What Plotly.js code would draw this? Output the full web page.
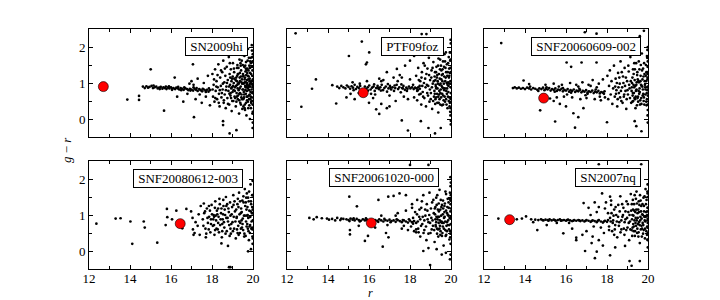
<!DOCTYPE html>
<html><head><meta charset="utf-8">
<script src="https://cdn.plot.ly/plotly-3.0.1.min.js"></script>
<style>body{margin:0;background:#fff}#c{width:720px;height:300px}</style>
</head><body><div id="c"></div>
<script>
const names = ['SN2009hi','PTF09foz','SNF20060609-002','SNF20080612-003','SNF20061020-000','SN2007nq'];
const hostX = [12.70, 15.72, 14.91, 16.45, 16.11, 13.25];
const hostY = [0.90, 0.73, 0.58, 0.76, 0.78, 0.87];
const xTicks = [12, 14, 16, 18, 20];
const yTicks = [0, 1, 2];

const stars1 = [[15.01,1.38],[13.87,0.54],[14.44,0.64],[14.44,0.53],[15.66,0.23],[16.18,1.15],[17.07,1.52],[17.12,0.05],[18.54,-0.06],[18.54,-0.17],[18.86,-0.40],[19.19,-0.31],
[14.63,0.90],[14.72,0.86],[14.80,0.91],[14.88,0.87],[14.95,0.89],[15.05,0.92],[15.12,0.86],[15.20,0.88],[15.28,0.90],[15.35,0.85],[15.42,0.87],[15.50,0.89],[15.58,0.84],[15.63,0.88],[15.70,0.86],[15.78,0.83],[15.85,0.87],[15.92,0.85],[16.00,0.88],[16.06,0.84],[16.12,0.86],[16.20,0.83],[16.26,0.87],[16.33,0.85],[16.40,0.82],[16.47,0.86],[16.55,0.84],[16.62,0.81],[16.70,0.85],[16.78,0.83],[16.85,0.80],[16.92,0.84],[17.00,0.82],[17.08,0.79],[17.15,0.84],[17.22,0.81],[17.30,0.78],[17.38,0.83],[17.45,0.80],[17.52,0.77],[17.60,0.82],[17.68,0.79],[17.75,0.81],[17.83,0.76],[17.90,0.80],
[16.30,0.62],[16.60,0.48],[16.90,0.98],[17.00,1.05],[17.20,0.55],[17.30,1.12],[17.50,0.45],[17.60,1.00],[17.70,0.62],[17.80,1.20],[17.90,0.38],[17.40,0.68],[16.80,0.70],[17.10,0.95],
[18.02,1.25],[18.05,0.62],[18.08,0.95],[18.12,0.48],[18.15,1.38],[18.18,0.78],[18.22,1.05],[18.25,0.55],[18.28,0.88],[18.31,1.52],[18.34,0.70],[18.37,0.35],[18.40,1.15],[18.43,0.92],[18.46,0.60],
[18.50,1.30],[18.52,0.82],[18.55,1.62],[18.57,0.45],[18.60,1.02],[18.62,0.68],[18.65,1.20],[18.67,0.30],[18.70,0.90],[18.72,1.45],[18.75,0.58],[18.77,1.08],[18.80,0.78],[18.82,1.72],[18.84,0.40],[18.86,1.25],[18.88,0.95],[18.90,0.65],[18.92,1.38],[18.94,0.85],[18.96,0.22],[18.98,1.12],
[19.00,0.75],[19.02,1.55],[19.04,0.50],[19.06,1.00],[19.08,1.30],[19.10,0.62],[19.12,0.88],[19.14,1.82],[19.16,0.35],[19.18,1.15],[19.20,0.72],[19.22,1.42],[19.24,0.95],[19.26,0.55],[19.28,1.25],[19.30,0.80],[19.32,0.15],[19.34,1.65],[19.36,1.05],[19.38,0.45],[19.40,0.90],[19.42,1.35],[19.44,0.68],[19.46,1.10],[19.48,0.28],[19.50,1.50],
[19.52,0.82],[19.54,1.20],[19.55,0.58],[19.57,1.00],[19.58,1.75],[19.60,0.40],[19.62,0.92],[19.63,1.32],[19.65,0.70],[19.66,1.58],[19.68,0.10],[19.70,1.08],[19.71,0.52],[19.73,1.40],[19.74,0.85],[19.76,1.95],[19.77,0.30],[19.79,1.18],[19.80,0.65],[19.82,1.48],[19.83,0.95],[19.85,0.00],[19.86,1.28],[19.88,0.75],[19.89,1.70],[19.91,0.45],[19.92,1.05],[19.94,2.05],[19.95,0.60],[19.97,1.35],[19.98,0.88],[19.99,-0.10],
[18.03,0.82],[18.10,1.10],[18.16,0.58],[18.21,0.90],[18.27,1.22],[18.33,0.45],[18.38,0.80],[18.44,1.35],[18.48,0.72],[18.53,0.98],[18.58,0.52],[18.63,1.40],[18.68,0.80],[18.73,1.00],[18.78,0.42],[18.83,0.90],[18.87,1.55],[18.91,0.72],[18.95,1.05],[18.99,0.50],[19.03,0.92],[19.07,1.40],[19.11,0.78],[19.15,1.08],[19.19,0.48],[19.23,1.20],[19.27,0.65],[19.31,1.00],[19.35,0.85],[19.39,1.55],[19.43,0.60],[19.47,0.98],[19.51,1.25],[19.55,0.75],[19.59,1.10],[19.61,0.25],[19.64,0.88],[19.67,1.22],[19.69,0.62],[19.72,1.00],[19.75,0.48],[19.78,1.35],[19.81,0.80],[19.84,1.12],[19.87,0.55],[19.90,1.55],[19.93,0.82],[19.96,1.20],[19.98,0.40],[19.99,1.80],[19.97,0.95],[19.93,1.45],[19.88,1.00],[19.84,0.68],[19.79,0.92],[19.74,1.62],[19.70,0.78],[19.66,1.02],[19.62,1.48],[19.57,0.68],[19.53,0.35],[19.49,0.82],[19.45,1.62],[19.41,1.18],[19.37,0.72],[19.33,0.52],[19.29,1.42],[19.25,0.85],[19.21,1.05],[19.17,0.92],[19.13,0.58],[19.09,1.12],[19.05,0.80],[19.01,1.18],[18.97,0.88],[18.93,0.58],[18.89,1.15],[18.85,0.70],
[19.99,0.20],[19.98,1.60],[19.96,0.72],[19.95,1.90],[19.99,1.10],[19.98,-0.25],[19.97,0.50]];
const stars1b = [[19.21,0.62],[19.24,1.50],[19.27,0.98],[19.33,0.70],[19.36,1.28],[19.41,0.40],[19.44,1.02],[19.47,1.78],[19.52,0.55],[19.54,0.98],[19.57,1.45],[19.59,0.30],[19.61,1.15],[19.63,0.80],[19.66,0.45],[19.68,1.35],[19.71,0.95],[19.73,0.62],[19.75,1.20],[19.78,0.88],[19.80,1.70],[19.82,0.38],[19.85,1.42],[19.87,0.90],[19.89,0.62],[19.91,1.25],[19.93,0.50],[19.95,1.05],[19.96,1.72],[19.98,0.75],[19.99,1.45],[19.97,0.15],[19.94,1.58],[19.92,0.98],[19.90,0.30],[19.86,1.60],[19.83,1.05],[19.81,0.55],[19.77,1.10],[19.72,1.28],[19.69,0.90],[19.65,1.40],[19.60,1.02],[19.56,0.60],[19.50,1.18],[19.46,0.55],[19.40,1.48],[19.35,1.15],[19.30,0.98],[19.26,1.25],
[15.15,0.93],[15.45,0.83],[15.75,0.90],[16.05,0.81],[16.35,0.89],[16.65,0.88],[16.95,0.79],[17.25,0.86],[17.55,0.84],[17.85,0.85],[15.90,0.91],[16.50,0.80],[17.10,0.88],[17.70,0.75]];

const stars2 = [[12.42,2.38],[15.65,2.15],[16.01,1.85],[15.90,1.57],[15.85,1.52],[15.02,1.75],[13.41,1.10],[13.22,0.84],[12.70,0.34],[14.40,0.43],[14.21,0.94],[16.35,0.27],[16.50,0.14],[16.87,0.30],[17.60,-0.04],[17.90,-0.32],[18.53,-0.06],[18.90,-0.25],[19.22,-0.40],[19.50,-0.25],[16.87,1.30],[17.36,1.39],[17.76,1.48],[18.57,2.36],[18.80,2.36],[14.90,0.60],[15.10,0.70],[15.30,0.55],[16.00,0.45],[16.20,0.58],[16.60,0.42],[17.00,0.35],[17.30,0.50],[17.20,1.15],[16.60,1.05],[17.50,1.22],[18.00,1.62],[18.20,1.75],[18.40,1.85],[18.60,1.95],
[14.45,0.90],[14.55,0.86],[14.65,0.92],[14.75,0.88],[14.85,0.85],[14.92,0.93],[15.00,0.89],[15.08,0.84],[15.15,0.91],[15.22,0.87],[15.30,0.95],[15.36,0.83],[15.43,0.89],[15.50,0.86],[15.57,0.92],[15.63,0.80],[15.80,0.90],[15.87,0.84],[15.94,0.88],[16.01,0.93],[16.08,0.82],[16.15,0.87],[16.22,0.90],[16.28,0.78],[16.35,0.86],[16.42,0.92],[16.48,0.83],[16.55,0.88],[16.62,0.95],[16.68,0.80],[16.75,0.86],[16.82,0.90],[16.88,0.76],[16.95,0.85],[17.02,0.92],[17.08,0.82],[17.15,0.88],[17.22,0.78],[17.28,0.86],[17.35,0.95],[17.42,0.83],[17.48,0.88],[17.55,0.74],[17.62,0.86],[17.68,0.92],[17.75,0.81],[17.82,0.87],[17.88,0.84],[17.95,0.90],[18.02,0.85],[18.10,0.88],[18.18,0.83],[18.25,0.87],[18.32,0.85],[18.40,0.88],[18.48,0.84],
[15.20,1.02],[15.50,0.72],[15.90,1.05],[16.30,0.68],[16.70,1.08],[17.00,0.65],[17.40,1.05],[17.70,0.62],[18.00,1.10],[18.20,0.60],[16.10,0.70],[16.50,1.12],[17.90,0.55],[17.60,1.15],
[18.30,1.20],[18.35,0.52],[18.40,1.42],[18.45,0.68],[18.50,1.05],[18.55,0.40],[18.58,1.30],[18.62,0.75],[18.66,1.55],[18.70,0.58],[18.74,1.12],[18.78,0.35],[18.82,0.95],[18.85,1.40],[18.88,0.65],[18.92,1.70],[18.95,0.48],[18.98,1.08],[19.02,0.72],[19.05,1.35],[19.08,0.28],[19.11,0.98],[19.14,1.58],[19.17,0.62],[19.20,1.18],[19.23,0.42],[19.26,0.90],[19.29,1.45],[19.32,0.70],[19.35,1.05],[19.38,0.18],[19.41,1.25],[19.44,0.55],[19.47,1.65],[19.50,0.82],[19.53,1.10],[19.56,0.38],[19.59,1.38],[19.62,0.65],[19.65,0.98],[19.68,1.80],[19.71,0.48],[19.74,1.15],[19.77,0.78],[19.80,1.52],[19.83,0.30],[19.86,1.02],[19.89,1.72],[19.92,0.60],[19.95,1.28],[19.98,0.88],[19.99,2.10],[19.97,0.10],[19.96,1.62],[19.94,0.45],[19.91,1.40],[19.88,0.92],[19.85,0.62],[19.82,1.20],[19.79,1.00],[19.76,0.55],[19.73,1.42],[19.70,0.85],[19.67,1.18],[19.64,0.52],[19.61,1.60],[19.58,0.88],[19.55,1.22],[19.52,0.60],[19.49,0.98],[19.46,1.38],[19.43,0.78],[19.40,0.45],[19.37,1.48],[19.34,0.85],[19.31,1.15],[19.28,0.60],[19.25,0.95],[19.22,1.30],[19.19,0.78],[19.16,1.05],[19.13,0.50],[19.10,1.42],[19.07,0.88],[19.04,1.15],[19.01,0.55],[18.97,0.82],[18.93,1.22],[18.89,0.92],[18.84,0.72],[18.80,1.25],[18.76,0.88],[18.72,1.48],[18.68,1.00],[18.64,0.62],[18.60,0.92],[18.56,1.15],[18.52,0.70],[18.47,0.92],[18.43,1.08],[18.38,0.80],
[19.99,1.30],[19.99,0.55],[19.98,1.85],[19.99,-0.15],[19.97,1.05],[19.98,0.30]];
const stars2b = [[19.21,0.70],[19.24,1.08],[19.27,1.30],[19.33,0.45],[19.36,0.98],[19.39,1.68],[19.42,0.68],[19.45,1.12],[19.48,0.40],[19.51,1.48],[19.54,0.92],[19.57,0.70],[19.60,1.25],[19.63,0.85],[19.66,1.45],[19.69,0.62],[19.72,1.05],[19.75,1.85],[19.78,0.40],[19.81,0.85],[19.84,1.30],[19.87,0.75],[19.90,1.15],[19.93,0.35],[19.95,0.98],[19.97,1.42],[19.99,0.72],[19.98,1.65],[19.96,0.20],[19.94,1.85],[19.92,1.20],[19.89,0.50],[19.86,1.55],[19.83,0.95],[19.80,0.70],[19.76,1.30],[19.71,1.60],[19.67,0.80],[19.62,0.40],[19.58,1.05],[19.53,1.35],[19.48,0.72],[19.44,0.95],[19.38,0.62],[19.33,1.22],[19.28,0.85],[19.24,0.55],[19.99,-0.05],[19.98,2.20],[19.97,0.60],
[15.25,0.80],[15.55,0.98],[15.95,0.79],[16.25,0.96],[16.58,0.79],[16.92,0.97],[17.25,0.93],[17.58,0.96],[17.85,0.78],[18.15,0.95],[18.35,0.78],[16.45,0.86],[17.05,0.87],[17.65,0.85]];

const stars3 = [[12.84,2.11],[13.93,1.07],[14.74,0.24],[15.47,-0.07],[16.44,-0.24],[18.00,-0.09],[16.03,1.57],[16.25,1.45],[16.76,1.57],[17.49,1.57],[17.49,2.37],[16.92,2.41],[15.22,0.57],[15.40,0.50],[15.70,0.42],[16.00,0.35],[16.36,0.16],[16.60,0.05],[16.85,0.30],[15.55,0.60],[19.35,-0.06],[19.43,-0.20],[19.68,-0.34],[14.20,0.97],[19.60,2.30],[19.80,2.45],
[13.41,0.86],[13.50,0.88],[13.60,0.85],[13.70,0.87],[13.80,0.84],[13.90,0.86],[14.00,0.83],[14.10,0.87],[14.20,0.85],[14.30,0.82],[14.40,0.86],[14.50,0.84],[14.60,0.81],[14.70,0.85],[14.80,0.83],[14.88,0.87],[14.95,0.80],[15.02,0.84],[15.10,0.82],[15.18,0.86],[15.25,0.79],[15.32,0.83],[15.40,0.81],[15.48,0.85],[15.55,0.78],[15.62,0.82],[15.70,0.80],[15.78,0.84],[15.85,0.77],[15.92,0.81],[16.00,0.79],[16.08,0.83],[16.15,0.76],[16.22,0.80],[16.30,0.78],[16.38,0.82],[16.45,0.75],[16.52,0.79],[16.60,0.77],[16.68,0.81],[16.75,0.74],[16.82,0.78],[16.90,0.76],[16.98,0.80],[17.05,0.73],[17.12,0.77],[17.20,0.75],[17.28,0.79],[17.35,0.72],[17.42,0.76],[17.50,0.74],[17.58,0.78],[17.65,0.71],[17.72,0.75],[17.80,0.73],[17.88,0.77],
[15.00,0.95],[15.40,0.98],[15.80,0.95],[16.20,1.00],[16.50,0.95],[16.80,1.02],[17.10,0.95],[17.30,1.08],[17.60,0.98],[17.80,1.10],[15.90,0.62],[16.30,0.60],[16.70,0.55],[17.00,0.58],[17.40,0.55],[17.70,0.52],[17.90,0.60],[17.20,0.92],[16.60,0.90],[17.50,0.88],
[18.02,1.20],[18.06,0.55],[18.10,0.92],[18.14,1.35],[18.18,0.68],[18.22,1.05],[18.26,0.42],[18.30,0.85],[18.34,1.48],[18.38,0.62],[18.42,1.12],[18.46,0.80],[18.50,0.35],[18.54,1.28],[18.58,0.72],[18.62,0.98],[18.66,1.60],[18.70,0.50],[18.74,0.88],[18.78,1.18],[18.82,0.62],[18.86,1.42],[18.90,0.78],[18.94,0.28],[18.98,1.05],[19.02,0.68],[19.06,1.32],[19.10,0.85],[19.14,1.72],[19.18,0.45],[19.22,1.00],[19.26,0.72],[19.30,1.25],[19.34,0.58],[19.38,0.92],[19.42,1.55],[19.46,0.38],[19.50,1.10],[19.54,0.78],[19.58,1.38],[19.62,0.52],[19.66,0.95],[19.70,1.82],[19.74,0.65],[19.78,1.18],[19.82,0.40],[19.86,0.88],[19.90,1.50],[19.94,0.72],[19.98,1.15],[19.99,0.25],[19.97,1.92],[19.95,0.55],[19.92,1.30],[19.88,0.82],[19.84,1.05],[19.80,0.60],[19.76,1.40],[19.72,0.90],[19.68,0.42],[19.64,1.20],[19.60,0.75],[19.56,1.02],[19.52,0.48],[19.48,1.30],[19.44,0.82],[19.40,0.62],[19.36,1.38],[19.32,0.88],[19.28,0.50],[19.24,1.15],[19.20,0.78],[19.16,1.05],[19.12,0.58],[19.08,0.95],[19.04,1.48],[19.00,0.80],[18.96,0.55],[18.92,1.15],[18.88,0.92],[18.84,0.68],[18.80,1.00],[18.76,0.45],[18.72,1.30],[18.68,0.78],[18.64,0.60],[18.60,1.15],[18.56,0.88],[18.52,0.55],[18.48,1.00],[18.44,0.70],[18.40,0.90],
[19.99,1.60],[19.99,0.90],[19.98,0.10],[19.97,1.25],[19.99,-0.10],[19.96,1.70]];
const stars3b = [[19.21,0.88],[19.24,0.48],[19.27,1.38],[19.31,0.72],[19.35,1.08],[19.39,0.30],[19.43,0.95],[19.47,1.22],[19.51,0.62],[19.55,1.60],[19.59,0.85],[19.63,1.05],[19.67,0.58],[19.71,1.35],[19.75,0.82],[19.79,0.50],[19.83,1.25],[19.87,0.68],[19.91,1.05],[19.93,0.38],[19.96,0.88],[19.98,1.45],[19.99,0.65],[19.97,1.10],[19.95,1.75],[19.92,0.48],[19.89,1.20],[19.85,0.95],[19.81,1.55],[19.77,0.70],[19.73,1.10],[19.69,0.92],[19.65,1.50],[19.61,0.40],[19.57,0.70],[19.53,1.05],[19.49,0.58],[19.45,1.02],[19.41,0.78],[19.37,0.55],[19.33,1.55],[19.29,0.95],[19.25,0.65],[19.99,2.00],[19.98,0.40],[19.99,1.30],[19.97,0.80],
[14.25,0.90],[14.65,0.78],[15.05,0.88],[15.45,0.76],[15.85,0.86],[16.25,0.73],[16.65,0.84],[17.05,0.70],[17.45,0.82],[17.85,0.70],[16.05,0.68],[16.95,0.66],[17.65,0.62],[15.65,0.90]];

const stars4 = [[12.36,0.76],[13.30,0.90],[13.54,0.91],[14.02,0.82],[14.11,0.20],[14.67,0.82],[14.72,0.65],[15.33,0.23],[15.74,0.72],[15.80,1.17],[15.82,0.94],[16.26,1.12],[16.05,0.88],[16.55,0.63],[16.62,0.75],[16.75,1.17],[16.98,1.10],[17.05,0.92],[17.20,0.80],[17.07,0.60],[17.30,0.70],[18.46,0.21],[18.78,0.14],[19.76,-0.01],[19.90,0.05],[18.83,-0.45],[18.90,-0.45],[17.10,0.45],[17.15,0.50],[17.40,0.45],[17.45,1.25],[17.60,1.32],[17.35,1.02],[17.70,0.38],
[17.55,0.88],[17.62,1.05],[17.68,0.62],[17.75,1.18],[17.80,0.78],[17.86,0.95],[17.92,0.52],[17.98,1.28],[18.04,0.70],[18.08,1.00],[18.12,0.45],[18.16,1.38],[18.20,0.85],[18.24,1.12],[18.28,0.60],[18.32,0.95],[18.36,1.45],[18.40,0.72],[18.44,1.05],[18.48,0.38],[18.52,0.88],[18.56,1.25],[18.60,0.65],[18.64,1.00],[18.68,1.50],[18.72,0.55],[18.76,0.92],[18.80,1.18],[18.84,0.72],[18.88,1.35],[18.92,0.48],[18.96,1.02],[19.00,0.80],[19.04,1.55],[19.08,0.62],[19.12,1.10],[19.16,0.35],[19.20,0.92],[19.24,1.30],[19.28,0.70],[19.32,1.62],[19.36,0.50],[19.40,1.05],[19.44,0.85],[19.48,1.40],[19.52,0.58],[19.56,0.98],[19.60,1.72],[19.64,0.42],[19.68,1.15],[19.72,0.75],[19.76,1.48],[19.80,0.30],[19.84,0.95],[19.88,1.85],[19.92,0.62],[19.96,1.22],[19.99,0.85],[19.98,1.95],[19.97,0.40],[19.94,1.05],[19.90,1.38],[19.86,0.72],[19.82,1.12],[19.78,0.55],[19.74,1.00],[19.70,1.60],[19.66,0.82],[19.62,1.25],[19.58,0.48],[19.54,1.35],[19.50,0.90],[19.46,0.65],[19.42,1.18],[19.38,0.78],[19.34,1.02],[19.30,0.45],[19.26,1.45],[19.22,0.60],[19.18,1.15],[19.14,0.82],[19.10,1.38],[19.06,0.95],[19.02,0.55],[18.98,1.22],[18.94,0.75],[18.90,0.98],[18.86,0.42],[18.82,1.08],[18.78,0.82],[18.74,1.30],[18.70,0.92],[18.66,0.48],[18.62,1.15],[18.58,0.80],[18.54,1.02],[18.50,0.55],[18.46,1.18],[18.42,0.88],[18.38,1.30],[18.34,0.52],[18.30,0.78],[18.26,1.02],[18.22,0.62],[18.18,0.98],[18.14,1.20],[18.10,0.72],[18.06,0.88],[18.00,1.02],[17.95,0.75],[17.90,1.12],[17.84,0.60],[17.78,0.92],[17.72,0.48],[17.66,1.10],[17.58,0.70],
[19.99,1.55],[19.98,0.20],[19.99,1.15],[19.97,0.60]];
const stars4b = [[19.21,0.95],[19.25,0.50],[19.29,1.22],[19.33,0.82],[19.37,1.38],[19.41,0.62],[19.45,1.08],[19.49,0.75],[19.53,1.52],[19.57,0.40],[19.61,0.98],[19.65,1.35],[19.69,0.68],[19.73,1.22],[19.77,0.92],[19.81,1.65],[19.85,0.50],[19.89,1.10],[19.93,0.82],[19.96,1.55],[19.99,0.35],[19.98,1.05],[19.95,0.65],[19.91,1.30],[19.87,0.95],[19.83,0.68],[19.79,1.38],[19.75,0.62],[19.71,0.98],[19.67,1.48],[18.70,1.25],[18.50,0.75],[18.30,1.18],[18.10,0.95],[18.90,0.62],[19.05,1.28],[18.55,1.42],[18.15,0.58],[17.85,1.25],[17.95,0.88]];

const stars5 = [[15.04,1.51],[15.41,1.24],[16.46,1.42],[16.94,1.51],[17.20,1.53],[17.49,1.60],[17.80,1.55],[18.00,2.39],[18.90,2.39],[15.07,0.58],[15.07,0.46],[15.80,0.28],[15.95,0.42],[16.67,0.12],[16.83,0.50],[16.95,0.38],[18.65,0.00],[18.90,0.08],[19.30,0.05],[19.55,-0.10],[19.75,-0.05],[18.98,-0.39],[19.95,-0.23],[15.50,0.70],[16.30,0.65],[13.30,0.88],
[13.09,0.92],[13.45,0.94],[13.70,0.91],[13.95,0.90],[14.20,0.89],[14.45,0.92],[14.60,0.86],[14.75,0.89],[14.90,0.88],[15.00,0.86],[15.10,0.90],[15.20,0.87],[15.30,0.85],[15.40,0.89],[15.50,0.86],[15.60,0.84],[15.70,0.88],[15.80,0.85],[15.90,0.87],[16.00,0.83],[16.30,0.86],[16.40,0.84],[16.50,0.88],[16.60,0.85],[16.70,0.82],[16.80,0.86],[16.90,0.84],[17.00,0.87],[17.10,0.83],[17.20,0.85],[17.30,0.81],[17.40,0.86],[17.50,0.83],[17.60,0.80],[17.70,0.85],[17.80,0.82],[17.90,0.79],[18.00,0.84],[18.10,0.80],[18.20,0.83],
[17.40,1.05],[17.60,0.62],[17.80,1.12],[17.90,0.58],[18.10,1.20],[18.30,0.52],[17.30,0.98],[17.70,0.70],[16.90,0.72],[16.60,0.98],
[18.05,0.68],[18.10,1.30],[18.15,0.92],[18.20,0.55],[18.25,1.08],[18.30,0.78],[18.35,1.42],[18.40,0.62],[18.45,0.95],[18.50,0.40],[18.55,1.20],[18.60,0.75],[18.65,1.55],[18.70,0.58],[18.75,0.98],[18.80,0.30],[18.85,1.12],[18.90,0.80],[18.95,1.62],[19.00,0.50],[19.04,0.92],[19.08,1.35],[19.12,0.70],[19.16,1.05],[19.20,0.25],[19.24,0.88],[19.28,1.48],[19.32,0.62],[19.36,1.15],[19.40,0.78],[19.44,1.70],[19.48,0.45],[19.52,0.98],[19.56,1.28],[19.60,0.68],[19.64,0.15],[19.68,1.08],[19.72,0.82],[19.76,1.58],[19.80,0.55],[19.84,1.00],[19.88,1.35],[19.92,0.72],[19.96,0.38],[19.99,1.18],[19.98,1.80],[19.97,0.90],[19.94,1.45],[19.90,0.60],[19.86,0.85],[19.82,1.22],[19.78,0.70],[19.74,0.42],[19.70,1.32],[19.66,0.92],[19.62,1.18],[19.58,0.50],[19.54,0.82],[19.50,1.42],[19.46,0.70],[19.42,0.95],[19.38,0.40],[19.34,0.88],[19.30,1.28],[19.26,0.68],[19.22,1.02],[19.18,0.58],[19.14,1.42],[19.10,0.85],[19.06,0.60],[19.02,1.18],[18.98,0.78],[18.94,1.00],[18.90,0.48],[18.86,0.88],[18.82,1.30],[18.78,0.68],[18.74,1.15],[18.70,0.85],[18.66,0.50],[18.62,0.95],[18.58,1.38],[18.54,0.70],[18.50,0.88],[18.46,1.15],[18.42,0.52],[18.38,0.82],[18.34,1.02],[18.30,0.60],
[19.99,0.55],[19.99,1.55],[19.98,0.20],[19.99,0.95],[19.97,2.05],[19.98,1.30]];
const stars5b = [[19.21,1.18],[19.25,0.72],[19.29,0.95],[19.33,1.55],[19.37,0.60],[19.41,1.10],[19.45,0.85],[19.49,0.55],[19.53,1.22],[19.57,0.78],[19.61,1.40],[19.65,0.62],[19.69,0.95],[19.73,1.65],[19.77,0.45],[19.81,1.05],[19.85,0.72],[19.89,1.20],[19.93,0.92],[19.96,0.55],[19.98,1.40],[19.99,0.75],[19.97,1.10],[19.95,1.62],[19.92,0.32],[19.88,0.98],[19.84,1.45],[19.80,0.80],[19.76,1.12],[19.72,0.58],[19.68,1.25],[19.64,0.78],[19.60,1.02],[19.56,0.42],[19.52,0.80],[19.48,1.15],[19.44,0.62],[19.40,1.32],[19.36,0.95],[19.32,0.48],[19.28,0.80],[19.24,1.22],[19.99,1.90],[19.98,-0.10],[19.97,0.48],
[14.05,0.87],[14.35,0.85],[14.65,0.90],[15.05,0.83],[15.25,0.91],[15.55,0.82],[15.85,0.91],[16.15,0.84],[16.45,0.81],[16.75,0.89],[17.05,0.80],[17.35,0.88],[17.65,0.86],[17.95,0.88],[18.15,0.76]];

const stars6 = [[12.70,0.90],[14.05,0.96],[14.60,0.58],[15.06,0.72],[15.87,0.49],[16.30,0.62],[16.50,0.37],[16.50,0.30],[16.80,0.45],[16.93,0.00],[17.41,-0.20],[17.50,-0.02],[17.25,0.22],[18.15,-0.12],[18.88,0.14],[19.10,-0.28],[19.20,-0.41],[19.60,-0.28],[16.86,1.33],[17.76,1.60],[18.15,1.51],[17.60,2.41],[19.67,2.41],[17.10,1.20],[17.40,1.35],[17.00,0.55],[17.30,0.40],[17.60,0.30],[17.80,0.15],[18.40,0.10],
[13.60,0.88],[13.85,0.90],[14.30,0.88],[14.50,0.87],[14.65,0.86],[14.78,0.88],[14.90,0.85],[15.00,0.87],[15.10,0.86],[15.20,0.88],[15.30,0.85],[15.40,0.87],[15.50,0.84],[15.60,0.86],[15.70,0.88],[15.80,0.85],[15.90,0.86],[16.00,0.84],[16.10,0.87],[16.20,0.85],[16.30,0.83],[16.40,0.86],[16.50,0.84],[16.60,0.86],[16.70,0.83],[16.80,0.85],[16.90,0.82],[17.00,0.86],[17.10,0.84],[17.20,0.81],[17.30,0.85],[17.40,0.83],[17.50,0.80],[17.60,0.86],[17.70,0.82],[17.80,0.79],[17.90,0.84],[18.00,0.81],[14.40,0.80],[15.55,0.78],[16.15,0.78],
[17.20,1.00],[17.50,1.08],[17.70,0.65],[17.90,1.18],[18.10,0.58],[17.35,0.68],[17.85,0.50],[18.20,1.28],[18.35,0.45],[17.60,1.22],[17.95,1.35],
[18.05,1.05],[18.10,0.68],[18.15,0.92],[18.20,1.40],[18.25,0.55],[18.30,0.85],[18.35,1.15],[18.40,0.72],[18.45,1.00],[18.50,0.38],[18.55,1.28],[18.60,0.80],[18.65,1.52],[18.70,0.60],[18.75,0.95],[18.80,1.20],[18.85,0.45],[18.90,0.88],[18.95,1.38],[19.00,0.65],[19.04,1.08],[19.08,0.30],[19.12,0.82],[19.16,1.58],[19.20,0.58],[19.24,1.00],[19.28,0.75],[19.32,1.30],[19.36,0.42],[19.40,0.92],[19.44,1.65],[19.48,0.62],[19.52,1.15],[19.56,0.80],[19.60,0.22],[19.64,1.40],[19.68,0.70],[19.72,1.02],[19.76,0.48],[19.80,1.25],[19.84,0.85],[19.88,1.72],[19.92,0.55],[19.96,1.10],[19.99,0.78],[19.98,1.50],[19.97,0.32],[19.94,0.98],[19.90,1.30],[19.86,0.62],[19.82,0.95],[19.78,1.48],[19.74,0.78],[19.70,0.40],[19.66,1.10],[19.62,0.85],[19.58,1.28],[19.54,0.52],[19.50,0.92],[19.46,1.32],[19.42,0.70],[19.38,1.08],[19.34,0.85],[19.30,0.55],[19.26,1.42],[19.22,0.88],[19.18,1.12],[19.14,0.60],[19.10,1.00],[19.06,0.78],[19.02,1.30],[18.98,0.92],[18.94,0.58],[18.90,1.10],[18.86,0.80],[18.82,0.62],[18.78,1.00],[18.74,1.30],[18.70,0.85],[18.66,0.52],[18.62,1.10],[18.58,0.70],[18.54,0.95],[18.48,0.82],[18.42,1.22],[18.38,0.60],[18.32,0.98],[18.28,0.78],[18.22,1.05],[18.18,0.82],
[19.99,1.20],[19.99,0.10],[19.98,1.85],[19.99,0.50],[19.97,1.00],[19.98,0.65]];
const stars6b = [[19.21,1.30],[19.25,0.65],[19.29,0.98],[19.33,1.12],[19.37,0.55],[19.41,1.45],[19.45,0.85],[19.49,1.05],[19.53,0.40],[19.57,1.08],[19.61,1.55],[19.65,0.60],[19.69,0.90],[19.73,1.30],[19.77,0.72],[19.81,1.10],[19.85,0.35],[19.89,0.95],[19.93,1.42],[19.96,0.68],[19.98,1.20],[19.99,0.90],[19.97,1.65],[19.95,0.45],[19.91,1.08],[19.87,0.82],[19.83,1.52],[19.79,0.58],[19.75,1.00],[19.71,0.62],[19.67,1.25],[19.63,0.95],[19.59,0.72],[19.55,1.38],[19.51,0.75],[19.47,0.50],[19.43,1.15],[19.39,0.78],[19.35,1.55],[19.31,0.68],[19.27,1.15],[19.23,0.42],[19.99,0.30],[19.98,1.60],[19.97,0.85],
[14.85,0.86],[15.15,0.84],[15.45,0.86],[15.75,0.84],[16.05,0.86],[16.35,0.84],[16.65,0.85],[16.95,0.84],[17.25,0.83],[17.55,0.84],[17.85,0.82],[18.05,0.86]];

const allStars = [stars1.concat(stars1b), stars2.concat(stars2b), stars3.concat(stars3b),
                  stars4.concat(stars4b), stars5.concat(stars5b), stars6.concat(stars6b)];

// layout geometry (pixels in 720x300 canvas)
const W = 720, H = 300;
const colPx = [[89,253],[287,451],[484,648]];
const rowPx = [[29,137],[161,269]];
const labelPos = [[248,37],[444,37],[641,37],[243,169],[439,168],[641,168]];
const serif = 'Liberation Serif, Times New Roman, serif';

const traces = [];
const layout = {
  width: W, height: H, margin: {l:0, r:0, t:0, b:0},
  paper_bgcolor: '#fff', plot_bgcolor: '#fff', showlegend: false,
  font: {family: serif, size: 13, color: '#000'},
  annotations: [], shapes: []
};

for (let i = 0; i < 6; i++) {
  const r = Math.floor(i / 3), c = i % 3;
  const n = i + 1;
  const xa = n === 1 ? 'x' : 'x' + n, ya = n === 1 ? 'y' : 'y' + n;
  const xk = n === 1 ? 'xaxis' : 'xaxis' + n, yk = n === 1 ? 'yaxis' : 'yaxis' + n;
  const pts = allStars[i];
  traces.push({type: 'scatter', mode: 'markers', xaxis: xa, yaxis: ya,
    x: pts.map(p => p[0]), y: pts.map(p => p[1]),
    marker: {color: '#000', size: 2.7}, hoverinfo: 'skip', cliponaxis: true});
  traces.push({type: 'scatter', mode: 'markers', xaxis: xa, yaxis: ya,
    x: [hostX[i]], y: [hostY[i]],
    marker: {color: '#ff0000', size: 10, line: {color: '#000', width: 0.6}}, hoverinfo: 'skip'});
  const common = {showline: true, linecolor: '#000', linewidth: 1, mirror: 'ticks',
    ticks: 'inside', ticklen: 4, tickwidth: 1, tickcolor: '#000', showgrid: false, zeroline: false,
    tickfont: {family: serif, size: 13, color: '#000'}, fixedrange: true};
  layout[xk] = Object.assign({}, common, {
    domain: [colPx[c][0] / W, colPx[c][1] / W], anchor: ya, range: [12, 20],
    tickmode: 'array', tickvals: xTicks, ticktext: xTicks.map(String), showticklabels: r === 1,
    ticklabelstandoff: -3,
    minor: {tickmode: 'linear', tick0: 12, dtick: 1, ticks: 'inside', ticklen: 3, tickcolor: '#000'}
  });
  layout[yk] = Object.assign({}, common, {
    domain: [1 - rowPx[r][1] / H, 1 - rowPx[r][0] / H], anchor: xa, range: [-0.5, 2.5],
    tickmode: 'array', tickvals: yTicks, ticktext: yTicks.map(String), showticklabels: c === 0,
    minor: {tickmode: 'linear', tick0: 0, dtick: 0.5, ticks: 'inside', ticklen: 3, tickcolor: '#000'}
  });
  layout.annotations.push({xref: 'paper', yref: 'paper', x: labelPos[i][0] / W, y: 1 - labelPos[i][1] / H,
    xanchor: 'right', yanchor: 'top', text: '\u00a0' + names[i] + '\u00a0', showarrow: false,
    font: {family: serif, size: 13, color: '#000'}, bgcolor: '#fff', bordercolor: '#000', borderwidth: 1, borderpad: 1});
}
layout.annotations.push({xref: 'paper', yref: 'paper', x: 66 / W, y: 1 - 150 / H, text: '<i>g</i> − <i>r</i>',
  textangle: -90, showarrow: false, xanchor: 'center', yanchor: 'middle', font: {family: serif, size: 13, color: '#000'}});
layout.annotations.push({xref: 'paper', yref: 'paper', x: 371 / W, y: 1 - 293 / H, text: '<i>r</i>',
  showarrow: false, xanchor: 'center', yanchor: 'middle', borderpad: 0, font: {family: serif, size: 12, color: '#000'}});

Plotly.newPlot('c', traces, layout, {staticPlot: true, displayModeBar: false});
</script></body></html>
